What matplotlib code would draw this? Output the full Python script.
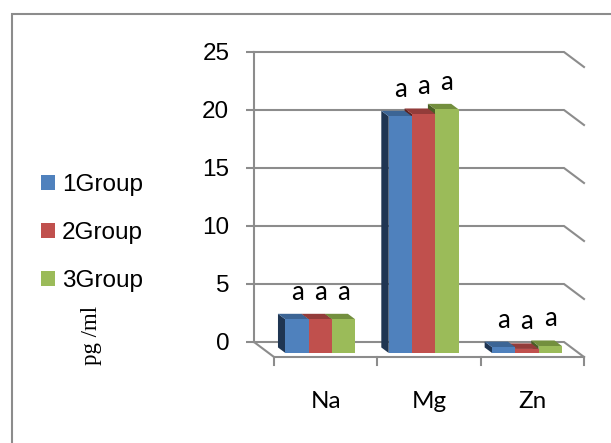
import matplotlib.pyplot as plt
from matplotlib.patches import Polygon, Patch, Rectangle

# mineral levels per group (pg/ml)
categories = ["Na", "Mg", "Zn"]
groups = ["1Group", "2Group", "3Group"]
na_vals = [2.9, 2.9, 2.9]
mg_vals = [20.4, 20.6, 21.0]
zn_vals = [0.5, 0.35, 0.6]
sig_letters = [["a", "a", "a"], ["a", "a", "a"], ["a", "a", "a"]]
yticks = [0, 5, 10, 15, 20, 25]

values = [na_vals, mg_vals, zn_vals]

face_col = ["#4F81BD", "#C0504D", "#9BBB59"]
top_col = ["#3C6595", "#933C3A", "#738F3E"]
side_col = ["#1F3552", "#5C2220", "#4A5F26"]
GRID = "#8C8C8C"

W_PX, H_PX = 611, 443
fig = plt.figure(figsize=(W_PX / 100, H_PX / 100), dpi=100)
ax = fig.add_axes([254 / W_PX, (H_PX - 342) / H_PX, 310 / W_PX, 290 / H_PX])
ax.set_xlim(0, 3)
ax.set_ylim(0, 25)
ax.patch.set_visible(False)

# oblique depth vector (back wall -> front edge of floor), in data units
DX = 20 / (310 / 3)
DY = 15 / (290 / 25)
F_FRONT, F_BACK = 0.733, 0.363   # bar front / back planes as fraction of depth
BW = 0.2255                       # single bar width
PX_Y = 25 / 290                   # one pixel in value units

# back wall gridlines bending onto the right side wall
for v in yticks:
    ax.plot([0, 3, 3 + DX], [v, v, v - DY], color=GRID, lw=1.5,
            clip_on=False, zorder=1, solid_joinstyle="miter")
# floor edges and category ticks
ax.plot([0, DX, 3 + DX], [0, -DY, -DY], color=GRID, lw=1.5, clip_on=False,
        zorder=1, solid_joinstyle="miter")
for k in range(4):
    ax.plot([k + DX, k + DX], [-DY, -DY - 8 * PX_Y], color=GRID, lw=1.5,
            clip_on=False, zorder=1)

for i, vals in enumerate(values):
    for j in (2, 1, 0):
        v = vals[j]
        x0 = i + 0.5 - 1.5 * BW + j * BW
        x1 = x0 + BW
        fx, fy = F_FRONT * DX, -F_FRONT * DY
        bx, by = F_BACK * DX, -F_BACK * DY
        side = Polygon([(x0 + fx, fy), (x0 + fx, v + fy), (x0 + bx, v + by), (x0 + bx, by)],
                       closed=True, facecolor=side_col[j], edgecolor="none",
                       clip_on=False, zorder=3)
        top = Polygon([(x0 + fx, v + fy), (x1 + fx, v + fy), (x1 + bx, v + by), (x0 + bx, v + by)],
                      closed=True, facecolor=top_col[j], edgecolor="none",
                      clip_on=False, zorder=3)
        ax.add_patch(side)
        ax.add_patch(top)
        ax.bar(x0 + fx, v, width=BW, bottom=fy, align="edge", color=face_col[j],
               clip_on=False, zorder=3, linewidth=0)
        ax.text(x0 + fx + BW / 2, v + by + 14 * PX_Y, sig_letters[i][j],
                ha="center", va="baseline", fontsize=18.5, family="Lato",
                zorder=4, clip_on=False)
    ax.text(i + 0.5 + DX, -5.69, categories[i], ha="center", va="baseline",
            fontsize=17.5, family="Lato", clip_on=False)

ax.set_xticks([])
ax.set_yticks(yticks)
ax.tick_params(axis="y", direction="out", length=5.8, width=1.5, color=GRID,
               pad=12, labelsize=17.5)
for lab in ax.get_yticklabels():
    lab.set_family("Liberation Sans")
for s in ("top", "right", "bottom"):
    ax.spines[s].set_visible(False)
ax.spines["left"].set_color(GRID)
ax.spines["left"].set_linewidth(1.5)

handles = [Patch(facecolor=c, edgecolor="none") for c in face_col]
fig.legend(handles, groups, loc="upper left",
           bbox_to_anchor=(41 / W_PX, 1 - 174 / H_PX), frameon=False,
           prop={"family": "Liberation Sans", "size": 17.5},
           handlelength=0.58, handleheight=0.58, handletextpad=0.29,
           labelspacing=1.07, borderpad=0, borderaxespad=0)

fig.text(92 / W_PX, 1 - 335 / H_PX, "pg /ml", rotation=90, ha="center",
         va="center", family="Liberation Serif", fontsize=16.5)

# chart area border (runs off the right and bottom edges)
fig.patches.append(Rectangle((12 / W_PX, -0.2), 1.2, 1 - 14 / H_PX + 0.2,
                             transform=fig.transFigure, fill=False,
                             edgecolor=GRID, lw=1.5, zorder=0))

fig.savefig("out.png", dpi=100)
